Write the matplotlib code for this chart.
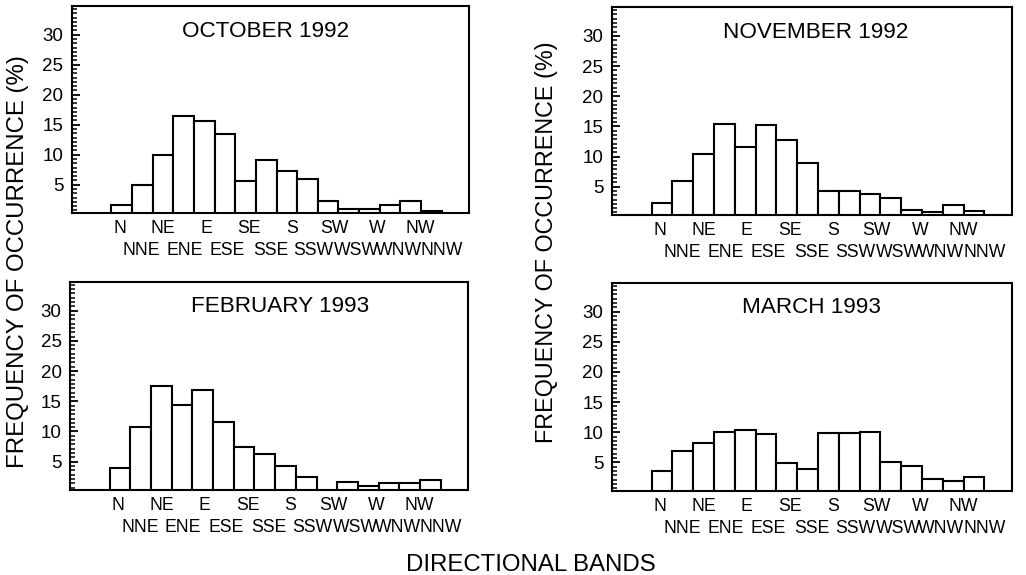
import matplotlib
matplotlib.use("Agg")
import matplotlib.pyplot as plt
from matplotlib.ticker import AutoMinorLocator

plt.rcParams["font.family"] = ["Liberation Sans", "DejaVu Sans"]

# Sixteen compass bands, clockwise from north
directions = ["N", "NNE", "NE", "ENE", "E", "ESE", "SE", "SSE",
              "S", "SSW", "SW", "WSW", "W", "WNW", "NW", "NNW"]

# Frequency of occurrence (%) per directional band
oct_1992 = [1.7, 5.0, 10.0, 16.4, 15.7, 13.4, 5.6, 9.1, 7.3, 5.9, 2.3, 0.9, 0.9, 1.6, 2.3, 0.7]
nov_1992 = [2.3, 6.0, 10.5, 15.4, 11.5, 15.2, 12.8, 9.0, 4.3, 4.3, 3.8, 3.2, 1.2, 0.8, 1.9, 1.0]
feb_1993 = [4.0, 10.7, 17.5, 14.3, 16.8, 11.6, 7.4, 6.2, 4.2, 2.4, 0.0, 1.6, 0.9, 1.5, 1.4, 2.0]
mar_1993 = [3.6, 6.9, 8.2, 10.1, 10.4, 9.7, 4.9, 3.9, 9.8, 9.9, 10.0, 5.0, 4.4, 2.3, 1.9, 2.6]

titles = ["OCTOBER 1992", "NOVEMBER 1992", "FEBRUARY 1993", "MARCH 1993"]
series = [oct_1992, nov_1992, feb_1993, mar_1993]
y_ticks = [5, 10, 15, 20, 25, 30]

fig = plt.figure(figsize=(10.26, 5.75), dpi=100)

rects = [
    [0.0699, 0.6296, 0.3872, 0.3600],
    [0.5962, 0.6261, 0.3899, 0.3617],
    [0.0682, 0.1478, 0.3879, 0.3623],
    [0.5962, 0.1466, 0.3899, 0.3617],
]
title_x = [0.489, 0.511, 0.528, 0.500]

x = list(range(len(directions)))
# the typed direction labels sit on a slightly wider pitch than the bars
label_pos = [-0.08 + 1.04 * i for i in x]

for rect, vals, ttl, tx in zip(rects, series, titles, title_x):
    ax = fig.add_axes(rect)
    ax.bar(x, vals, width=1.0, bottom=0, facecolor="white",
           edgecolor="black", linewidth=1.5, align="center")
    ax.set_xlim(-2.42, 16.82)
    ax.set_ylim(0.3, 34.8)

    for s in ax.spines.values():
        s.set_linewidth(1.5)

    ax.set_yticks(y_ticks)
    ax.set_yticklabels([str(v) for v in y_ticks], fontsize=13.5)
    ax.yaxis.set_minor_locator(AutoMinorLocator(7))
    ax.tick_params(axis="y", which="major", direction="in", length=5.5,
                   width=1.3, pad=6, left=True, right=False)
    ax.tick_params(axis="y", which="minor", direction="in", length=3.5,
                   width=1.1, left=True, right=False)

    # Two staggered rows of direction labels
    ax.set_xticks(label_pos[0::2])
    ax.set_xticklabels(directions[0::2], fontsize=12.7)
    ax.set_xticks(label_pos[1::2], minor=True)
    ax.set_xticklabels(directions[1::2], minor=True, fontsize=12.7)
    ax.tick_params(axis="x", which="major", length=0, pad=5)
    ax.tick_params(axis="x", which="minor", length=0, pad=21)

    ax.text(tx, 0.879, ttl, transform=ax.transAxes, ha="center",
            va="center", fontsize=16.2)

ylab = "FREQUENCY OF OCCURRENCE (%)"
fig.text(18 / 1026, 1 - 262 / 575, ylab, rotation=90, ha="center",
         va="center", fontsize=17.3)
fig.text(547 / 1026, 1 - 242 / 575, ylab, rotation=90, ha="center",
         va="center", fontsize=16.8)
fig.text(531 / 1026, 1 - 565 / 575, "DIRECTIONAL BANDS", ha="center",
         va="center", fontsize=17.3)

fig.savefig("out.png", dpi=100)
